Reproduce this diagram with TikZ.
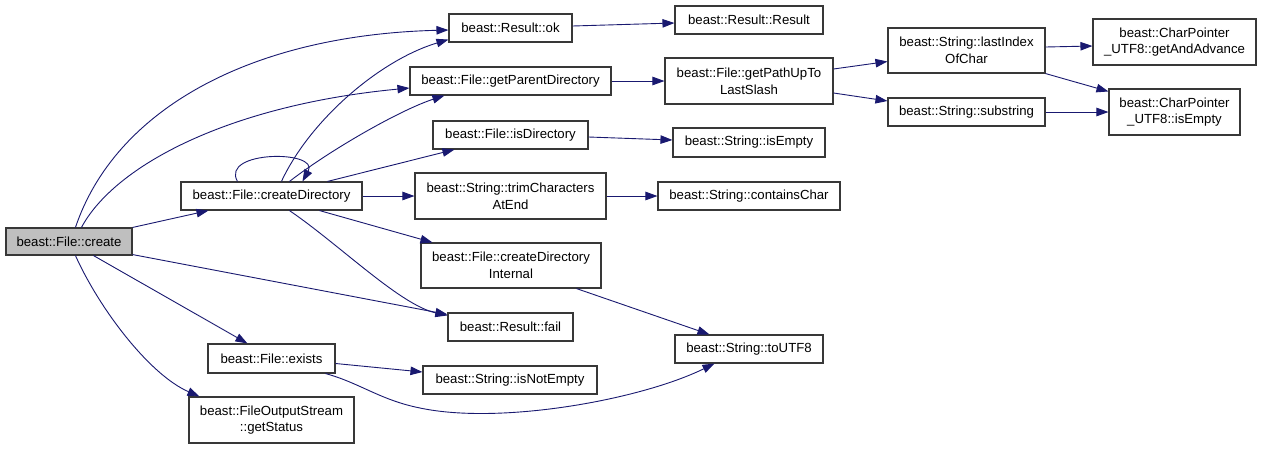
\documentclass[tikz,border=0pt]{standalone}
\usepackage{fontspec}
\setmainfont{Liberation Sans}
\usetikzlibrary{arrows.meta,calc}
\definecolor{edgec}{RGB}{25,25,112}
\definecolor{hl}{RGB}{191,191,191}
\begin{document}
\begin{tikzpicture}[x=1pt,y=-1pt,
  box/.style={draw=black!78,line width=1.1pt,fill=white,inner sep=0pt,align=center,
    font=\fontsize{13.2}{16.8}\selectfont},
  cl/.style={draw=edgec,line width=0.9pt,-{Triangle[length=12pt,width=8.5pt]}}]
\useasboundingbox[fill=white] (0,0) rectangle (1261,448);
% nodes
\node[box,fill=hl,minimum width=126pt,minimum height=27pt] (create) at (69,241.5) {beast::File::create};
\node[box,minimum width=181pt,minimum height=28pt] (cd) at (271.5,196) {beast::File::createDirectory};
\node[box,minimum width=127pt,minimum height=29pt] (exists) at (271.5,358.5) {beast::File::exists};
\node[box,minimum width=165pt,minimum height=46pt] (gs) at (271.5,420) {beast::FileOutputStream\\::getStatus};
\node[box,minimum width=123pt,minimum height=28pt] (ok) at (510.5,28) {beast::Result::ok};
\node[box,minimum width=201pt,minimum height=28pt] (gpd) at (510.5,81) {beast::File::getParentDirectory};
\node[box,minimum width=155pt,minimum height=28pt] (isdir) at (510.5,135) {beast::File::isDirectory};
\node[box,minimum width=191pt,minimum height=46pt] (trim) at (510.5,196) {beast::String::trimCharacters\\AtEnd};
\node[box,minimum width=180pt,minimum height=45pt] (cdi) at (511,265.5) {beast::File::createDirectory\\Internal};
\node[box,minimum width=125pt,minimum height=28pt] (fail) at (510.5,327) {beast::Result::fail};
\node[box,minimum width=174pt,minimum height=28pt] (isne) at (510,380) {beast::String::isNotEmpty};
\node[box,minimum width=148pt,minimum height=28pt] (res) at (749,20) {beast::Result::Result};
\node[box,minimum width=168pt,minimum height=46pt] (gpu) at (749,81) {beast::File::getPathUpTo\\LastSlash};
\node[box,minimum width=152pt,minimum height=29pt] (sie) at (749,142.5) {beast::String::isEmpty};
\node[box,minimum width=182pt,minimum height=28pt] (cc) at (749,196) {beast::String::containsChar};
\node[box,minimum width=148pt,minimum height=28pt] (utf) at (749,349) {beast::String::toUTF8};
\node[box,minimum width=157pt,minimum height=45pt] (lio) at (966.5,50.5) {beast::String::lastIndex\\OfChar};
\node[box,minimum width=157pt,minimum height=28pt] (sub) at (966.5,112) {beast::String::substring};
\node[box,minimum width=163pt,minimum height=46pt] (gaa) at (1174.5,42) {beast::CharPointer\\\_UTF8::getAndAdvance};
\node[box,minimum width=131pt,minimum height=46pt] (cpe) at (1174.5,112) {beast::CharPointer\\\_UTF8::isEmpty};
\coordinate (bend) at (420,408);
% edges from create
\draw[cl] ($(create.north west)+(70,0)$) .. controls (115,110) and (250,35) .. ($(ok.west)+(0,2)$);
\draw[cl] ($(create.north west)+(76,0)$) .. controls (115,165) and (230,105) .. ($(gpd.west)+(0,7)$);
\draw[cl] (create.north east) -- ($(cd.south west)+(28,0)$);
\draw[cl] ($(create.south east)+(0,-1)$) -- ($(fail.north west)+(0,2)$);
\draw[cl] ($(create.south west)+(88,0)$) -- ($(exists.north west)+(40,0)$);
\draw[cl] ($(create.south west)+(70,0)$) .. controls (100,310) and (150,375) .. ($(gs.north west)+(11,0)$);
% edges from createDirectory
\draw[cl] ($(cd.north west)+(57,0)$) .. controls (220,150) and (320,150) .. ($(cd.north west)+(122,0)$);
\draw[cl] ($(cd.north west)+(101,0)$) .. controls (310,120) and (380,60) .. ($(ok.south west)+(0,-3)$);
\draw[cl] ($(cd.north west)+(109,0)$) .. controls (330,150) and (400,110) .. ($(gpd.south west)+(35,0)$);
\draw[cl] ($(cd.north west)+(147,0)$) -- ($(isdir.south west)+(22,0)$);
\draw[cl] (cd.east) -- (trim.west);
\draw[cl] ($(cd.south west)+(139,0)$) -- ($(cdi.north west)+(12,0)$);
\draw[cl] ($(cd.south west)+(109,0)$) .. controls (340,245) and (400,305) .. ($(fail.north west)+(0,3)$);
% edges from exists
\draw[cl] ($(exists.east)+(0,5)$) -- ($(isne.west)+(0,-8)$);
\draw[cl] ($(exists.south east)+(-10,0)$) .. controls (360,383) and (380,400) .. (bend) .. controls (500,425) and (640,400) .. ($(utf.south west)+(40,0)$);
% others
\draw[cl] ($(cdi.south west)+(156,0)$) -- ($(utf.north west)+(35,0)$);
\draw[cl] ($(ok.east)+(0,-2)$) -- ($(res.west)+(0,3)$);
\draw[cl] (gpd.east) -- (gpu.west);
\draw[cl] ($(isdir.east)+(0,2)$) -- ($(sie.west)+(0,-2.5)$);
\draw[cl] (trim.east) -- (cc.west);
\draw[cl] ($(gpu.east)+(0,-12)$) -- ($(lio.west)+(0,11)$);
\draw[cl] ($(gpu.east)+(0,12)$) -- ($(sub.west)+(0,-11)$);
\draw[cl] ($(lio.east)+(0,-3.5)$) -- ($(gaa.west)+(0,4)$);
\draw[cl] (lio.south east) -- ($(cpe.north west)+(0,3)$);
\draw[cl] (sub.east) -- (cpe.west);
\end{tikzpicture}
\end{document}
